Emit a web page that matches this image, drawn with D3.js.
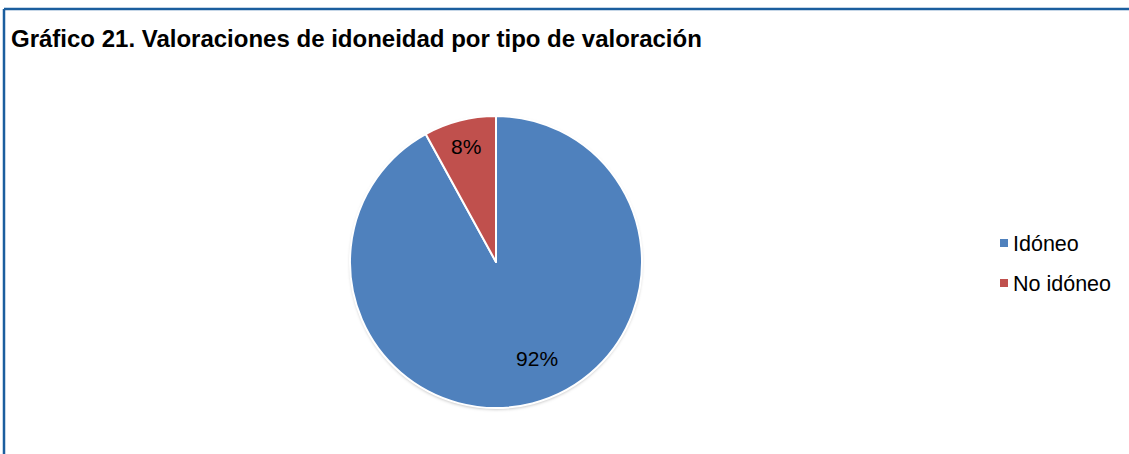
<!DOCTYPE html>
<html lang="es">
<head>
<meta charset="utf-8">
<title>Gráfico 21</title>
<script src="https://cdn.jsdelivr.net/npm/d3@7"></script>
<style>
  body { margin: 0; background: #fff; }
  text { font-family: Arial, "Liberation Sans", sans-serif; }
</style>
</head>
<body>
<script>
// data
var categories = ["Idóneo", "No idóneo"];
var values = [92, 8];
var colors = ["#4f81bd", "#c0504d"];

var w = 1129, h = 454;
var cx = 496, cy = 262, R = 146;

var svg = d3.select("body").append("svg")
  .attr("width", w)
  .attr("height", h);

// frame
svg.append("line").attr("x1", 4).attr("y1", 9).attr("x2", w).attr("y2", 9)
  .attr("stroke", "#1b5e9e").attr("stroke-width", 2.5);
svg.append("line").attr("x1", 4).attr("y1", 9).attr("x2", 4).attr("y2", h)
  .attr("stroke", "#1b5e9e").attr("stroke-width", 2.5);

// title
svg.append("text")
  .attr("x", 11).attr("y", 47)
  .attr("font-size", "24px")
  .attr("font-weight", "bold")
  .attr("fill", "#000")
  .text("Gráfico 21. Valoraciones de idoneidad por tipo de valoración");

var color = d3.scaleOrdinal().domain(categories).range(colors);

var pie = d3.pie().sort(null).value(function(d) { return d.v; });
var data = pie(categories.map(function(c, i) { return { c: c, v: values[i] }; }));
var total = d3.sum(values);

var arc = d3.arc().innerRadius(0).outerRadius(R);

var defs = svg.append("defs");
var f = defs.append("filter").attr("id", "sh").attr("x", "-20%").attr("y", "-20%").attr("width", "140%").attr("height", "140%");
f.append("feDropShadow").attr("dx", 0).attr("dy", 1.5).attr("stdDeviation", 1.5).attr("flood-color", "#000").attr("flood-opacity", 0.25);

var g = svg.append("g").attr("transform", "translate(" + cx + "," + cy + ")");

g.append("circle").attr("r", R).attr("fill", "#fff").attr("filter", "url(#sh)");

g.selectAll("path.slice")
  .data(data)
  .enter()
  .append("path")
  .attr("class", "slice")
  .attr("d", arc)
  .attr("fill", function(d) { return color(d.data.c); })
  .attr("stroke", "#fff")
  .attr("stroke-width", 2)
  .attr("stroke-linejoin", "round");

// labels
function labelPos(d) {
  var a = (d.startAngle + d.endAngle) / 2;
  var r = R * 0.82;
  if (d.data.v / total > 0.5) { a -= 0.15; r = R * 0.72; }
  return [Math.sin(a) * r, -Math.cos(a) * r];
}

g.selectAll("text.lbl")
  .data(data)
  .enter()
  .append("text")
  .attr("class", "lbl")
  .attr("x", function(d) { return labelPos(d)[0]; })
  .attr("y", function(d) { return labelPos(d)[1]; })
  .attr("dy", "0.36em")
  .attr("text-anchor", "middle")
  .attr("font-size", "21px")
  .attr("fill", "#000")
  .text(function(d) { return Math.round(d.data.v / total * 100) + "%"; });

// legend
var legend = svg.selectAll("g.leg")
  .data(categories)
  .enter()
  .append("g")
  .attr("class", "leg")
  .attr("transform", function(d, i) { return "translate(1000," + (243 + i * 40) + ")"; });

legend.append("rect")
  .attr("x", 0).attr("y", -4)
  .attr("width", 8).attr("height", 8)
  .attr("fill", function(d) { return color(d); });

legend.append("text")
  .attr("x", 13).attr("y", 0)
  .attr("dy", "0.36em")
  .attr("font-size", "21.5px")
  .attr("fill", "#000")
  .text(function(d) { return d; });
</script>
</body>
</html>
